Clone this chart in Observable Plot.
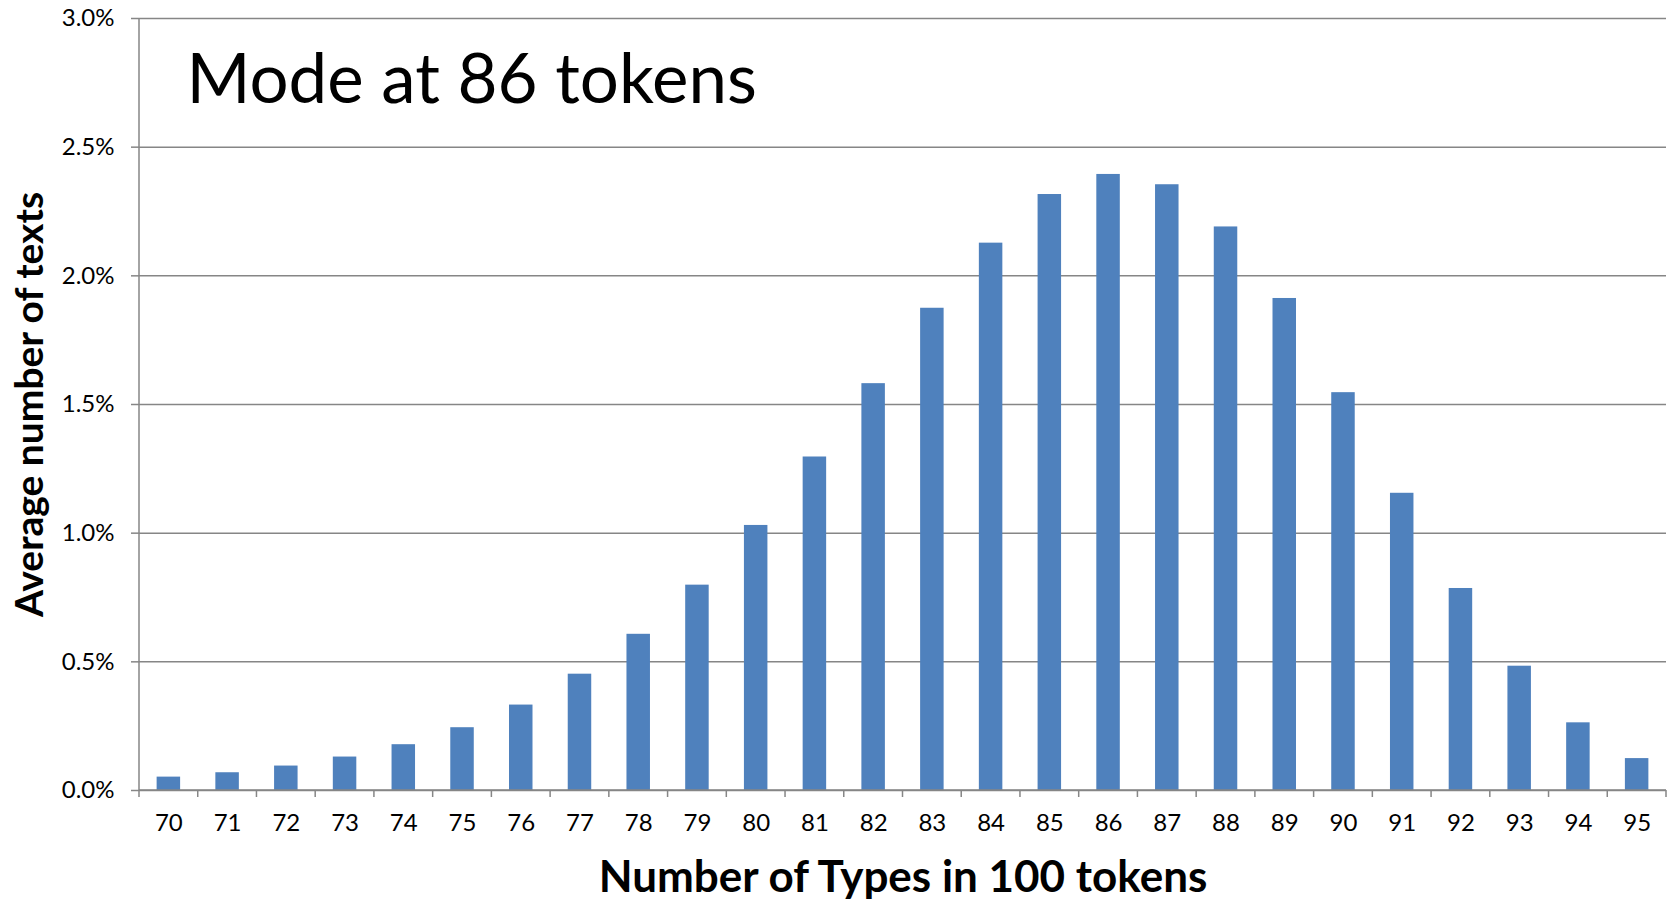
<!DOCTYPE html>
<html>
<head>
<meta charset="utf-8">
<script src="https://cdn.jsdelivr.net/npm/d3@7"></script>
<script src="https://cdn.jsdelivr.net/npm/@observablehq/plot@0.6"></script>
<style>
  html, body { margin: 0; padding: 0; background: #fff; }
</style>
</head>
<body>
<div id="chart"></div>
<script>
// Number of types in 100 tokens (categories)
const types = [70, 71, 72, 73, 74, 75, 76, 77, 78, 79, 80, 81, 82, 83, 84, 85, 86, 87, 88, 89, 90, 91, 92, 93, 94, 95];
// Average number of texts (percent)
const shares = [0.052, 0.069, 0.095, 0.130, 0.178, 0.244, 0.332, 0.452, 0.607, 0.798, 1.030, 1.296, 1.581, 1.874, 2.127, 2.316, 2.394, 2.354, 2.190, 1.912, 1.546, 1.155, 0.785, 0.483, 0.263, 0.124];
const yTicks = [0, 0.5, 1.0, 1.5, 2.0, 2.5, 3.0];
const annotation = "Mode at 86 tokens";
const xTitle = "Number of Types in 100 tokens";
const yTitle = "Average number of texts";

const data = types.map((t, i) => ({type: t, share: shares[i]}));

const gray = "#868686";
const barColor = "#4F81BD";

// Draws the axis lines and the category-boundary ticks from the scales
function axisLines(index, scales, values, dims) {
  const x = scales.x, y = scales.y;
  const bw = typeof x.bandwidth === "function" ? x.bandwidth() : (x.bandwidth || 0);
  const step = x(types[1]) - x(types[0]);
  const bounds = types.map(t => x(t) + bw / 2 - step / 2);
  bounds.push(x(types[types.length - 1]) + bw / 2 + step / 2);
  const y0 = y(0), yTop = y(yTicks[yTicks.length - 1]);
  const g = d3.create("svg:g").attr("stroke", gray).attr("stroke-width", 1.5).attr("fill", "none");
  g.append("line").attr("x1", bounds[0]).attr("x2", bounds[0]).attr("y1", yTop).attr("y2", y0);
  g.append("line").attr("x1", bounds[0]).attr("x2", bounds[bounds.length - 1]).attr("y1", y0).attr("y2", y0);
  for (const b of bounds) {
    g.append("line").attr("x1", b).attr("x2", b).attr("y1", y0).attr("y2", y0 + 7);
  }
  return g.node();
}

const chart = Plot.plot({
  width: 1675,
  height: 903,
  marginLeft: 139,
  marginRight: 9,
  marginTop: 18,
  marginBottom: 113,
  style: {fontFamily: "Lato, 'Open Sans', sans-serif", fontSize: "24px", color: "#000", background: "#fff"},
  x: {type: "band", domain: types, paddingInner: 0.6, paddingOuter: 0.3, round: false, label: null},
  y: {domain: [0, 3], label: null},
  marks: [
    Plot.gridY(yTicks, {stroke: gray, strokeOpacity: 1, strokeWidth: 1.5}),
    Plot.barY(data, {x: "type", y: "share", fill: barColor}),
    axisLines,
    Plot.axisY(yTicks, {tickSize: 8, tickPadding: 17, stroke: gray, strokeWidth: 1.5, fill: "#000", fontSize: 24,
      tickFormat: d => d.toFixed(1) + "%", label: null}),
    Plot.axisX({tickSize: 0, tickPadding: 23, fill: "#000", fontSize: 24, label: null}),
    Plot.text([annotation], {frameAnchor: "top-left", textAnchor: "start", lineAnchor: "middle", dx: 47, dy: 62, fontSize: 69, fill: "#000"}),
    Plot.text([xTitle], {frameAnchor: "bottom", textAnchor: "middle", lineAnchor: "middle", dy: 87, fontSize: 44, fontWeight: "bold", fill: "#000"}),
    Plot.text([yTitle], {frameAnchor: "left", textAnchor: "middle", lineAnchor: "middle", rotate: -90, dx: -109, fontSize: 39, fontWeight: "bold", fill: "#000"})
  ]
});

document.getElementById("chart").appendChild(chart);
</script>
</body>
</html>
